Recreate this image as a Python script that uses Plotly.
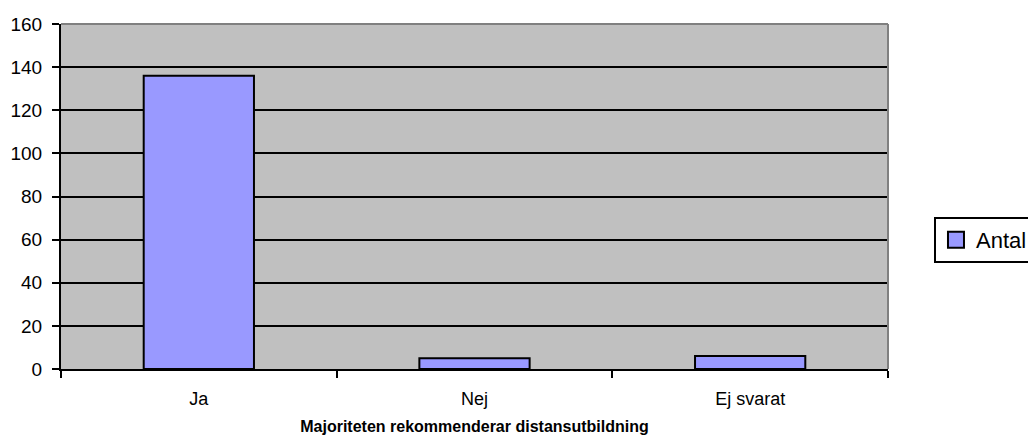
import plotly.graph_objects as go

categories = ["Ja", "Nej", "Ej svarat"]
antal = [136, 5, 6]
y_ticks = [0, 20, 40, 60, 80, 100, 120, 140, 160]

bar_color = "#9999FF"

fig = go.Figure()
fig.add_trace(go.Bar(
    x=categories, y=antal, name="Antal", showlegend=False,
    marker=dict(color=bar_color, line=dict(color="black", width=2)),
    width=0.4,
))
# legend entry with a larger square symbol
fig.add_trace(go.Scatter(
    x=[categories[0]], y=[None], name="Antal", mode="markers",
    marker=dict(symbol="square", size=16, color=bar_color,
                line=dict(color="black", width=2)),
    showlegend=True, hoverinfo="skip",
))

fig.update_layout(
    width=1028, height=438,
    margin=dict(l=61, r=140, t=24, b=69, autoexpand=False),
    paper_bgcolor="white", plot_bgcolor="#C0C0C0",
    font=dict(family="Liberation Sans, Arial", color="black", size=18),
    showlegend=True,
    legend=dict(x=1.0556, y=0.374, xanchor="left", yanchor="middle",
                bordercolor="black", borderwidth=2, bgcolor="white",
                font=dict(size=22), itemwidth=30, itemsizing="trace",
                tracegroupgap=0),
)
fig.update_xaxes(
    type="category", range=[-0.5, 2.5],
    showline=True, linecolor="black", linewidth=2,
    ticks="outside", tickson="boundaries", ticklen=7, tickwidth=2, tickcolor="black",
    tickfont=dict(size=18), ticklabelstandoff=12,
    title=dict(text="<b>Majoriteten rekommenderar distansutbildning</b>",
               font=dict(size=16), standoff=13),
    showgrid=False, mirror=False, automargin=False,
)
fig.update_yaxes(
    range=[0, 160], tickvals=y_ticks,
    showline=True, linecolor="black", linewidth=2,
    ticks="outside", ticklen=7, tickwidth=2, tickcolor="black",
    showgrid=True, gridcolor="black", gridwidth=2,
    tickfont=dict(size=19), ticklabelstandoff=6, zeroline=False, automargin=False,
)
# gray plot-area border (top and right)
fig.add_shape(type="line", xref="paper", yref="paper", x0=0, x1=1, y0=1, y1=1,
              line=dict(color="#808080", width=2))
fig.add_shape(type="line", xref="paper", yref="paper", x0=1, x1=1, y0=0, y1=1,
              line=dict(color="#808080", width=2))

fig.write_html("out.html",
               config={"displayModeBar": False},
               post_script="document.body.style.margin='0';document.body.style.overflow='hidden';")
